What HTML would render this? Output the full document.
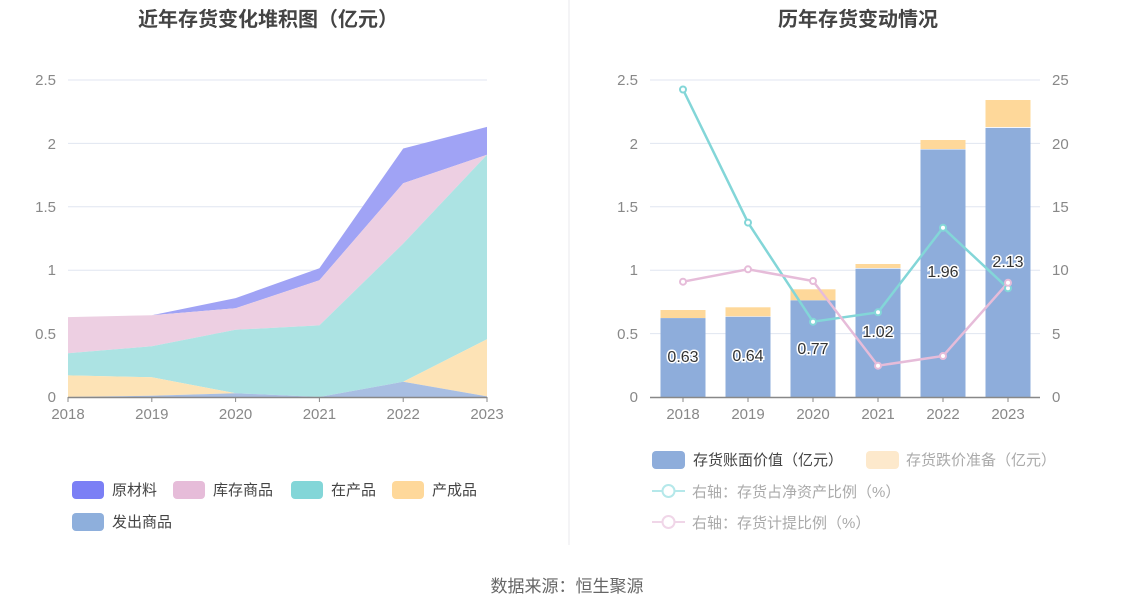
<!DOCTYPE html>
<html><head><meta charset="utf-8"><style>
body{margin:0;background:#fff;}
svg{display:block;font-family:"Liberation Sans","Noto Sans CJK SC",sans-serif;}
</style></head><body>
<svg width="1134" height="612" viewBox="0 0 1134 612">
<rect width="1134" height="612" fill="#fff"/>
<text x="268" y="26" text-anchor="middle" font-size="20" font-weight="bold" fill="#444">近年存货变化堆积图（亿元）</text>
<text x="858" y="26" text-anchor="middle" font-size="20" font-weight="bold" fill="#444">历年存货变动情况</text>
<line x1="569" y1="0" x2="569" y2="545" stroke="#e8e8ee"/>
<!-- left grid -->
<g stroke="#e0e6f1">
<line x1="68" y1="80" x2="487" y2="80"/><line x1="68" y1="143.4" x2="487" y2="143.4"/><line x1="68" y1="206.8" x2="487" y2="206.8"/><line x1="68" y1="270.2" x2="487" y2="270.2"/><line x1="68" y1="333.6" x2="487" y2="333.6"/>
</g>
<g font-size="15" fill="#888" text-anchor="end">
<text x="56" y="85">2.5</text><text x="56" y="149">2</text><text x="56" y="212">1.5</text><text x="56" y="275">1</text><text x="56" y="339">0.5</text><text x="56" y="402">0</text>
</g>
<!-- areas -->
<polygon fill="#a0a3f5" points="68,317.1 151.8,315.2 235.6,298.1 319.4,268.3 403.2,148.5 487,126.9 487,154.8 403.2,183.3 319.4,280.3 235.6,308.2 151.8,315.2 68,317.1"/>
<polygon fill="#ecceе0" points="0,0"/>
<polygon fill="#edcfe2" points="68,317.1 151.8,315.2 235.6,308.2 319.4,280.3 403.2,183.3 487,154.8 487,154.8 403.2,243.6 319.4,325.4 235.6,329.8 151.8,346.3 68,353.3"/>
<polygon fill="#ace3e3" points="68,353.3 151.8,346.3 235.6,329.8 319.4,325.4 403.2,243.6 487,154.8 487,339.3 403.2,381.8 319.4,397 235.6,393.2 151.8,377.3 68,375.4"/>
<polygon fill="#fde3b6" points="68,375.4 151.8,377.3 235.6,393.2 319.4,397 403.2,381.8 487,339.3 487,396.4 403.2,381.8 319.4,397 235.6,393.2 151.8,395.7 68,397"/>
<polygon fill="#a8bee2" points="68,397 151.8,395.7 235.6,393.2 319.4,397 403.2,381.8 487,396.4 487,397 68,397"/>
<line x1="68" y1="397.5" x2="487" y2="397.5" stroke="#888" stroke-width="1.5"/>
<g stroke="#888"><line x1="68" y1="397" x2="68" y2="402"/><line x1="151.8" y1="397" x2="151.8" y2="402"/><line x1="235.6" y1="397" x2="235.6" y2="402"/><line x1="319.4" y1="397" x2="319.4" y2="402"/><line x1="403.2" y1="397" x2="403.2" y2="402"/><line x1="487" y1="397" x2="487" y2="402"/></g>
<g font-size="15" fill="#888" text-anchor="middle">
<text x="68" y="419">2018</text><text x="151.8" y="419">2019</text><text x="235.6" y="419">2020</text><text x="319.4" y="419">2021</text><text x="403.2" y="419">2022</text><text x="487" y="419">2023</text>
</g>
<!-- left legend -->
<g font-size="15" fill="#444">
<rect x="72" y="481" width="32" height="18" rx="4" fill="#7b7ff5"/><text x="112" y="495">原材料</text>
<rect x="173" y="481" width="32" height="18" rx="4" fill="#e6bcd9"/><text x="213" y="495">库存商品</text>
<rect x="291" y="481" width="32" height="18" rx="4" fill="#83d6d8"/><text x="331" y="495">在产品</text>
<rect x="392" y="481" width="32" height="18" rx="4" fill="#fed89a"/><text x="432" y="495">产成品</text>
<rect x="72" y="513" width="32" height="18" rx="4" fill="#8eafdc"/><text x="112" y="527">发出商品</text>
</g>
<!-- right grid -->
<g stroke="#e0e6f1">
<line x1="650" y1="80" x2="1040" y2="80"/><line x1="650" y1="143.4" x2="1040" y2="143.4"/><line x1="650" y1="206.8" x2="1040" y2="206.8"/><line x1="650" y1="270.2" x2="1040" y2="270.2"/><line x1="650" y1="333.6" x2="1040" y2="333.6"/>
</g>
<g font-size="15" fill="#888" text-anchor="end">
<text x="638" y="85">2.5</text><text x="638" y="149">2</text><text x="638" y="212">1.5</text><text x="638" y="275">1</text><text x="638" y="339">0.5</text><text x="638" y="402">0</text>
</g>
<g font-size="15" fill="#888">
<text x="1052" y="85">25</text><text x="1052" y="149">20</text><text x="1052" y="212">15</text><text x="1052" y="275">10</text><text x="1052" y="339">5</text><text x="1052" y="402">0</text>
</g>
<!-- bars -->
<g fill="#fed89a">
<rect x="660.5" y="310" width="45" height="8"/><rect x="725.5" y="307.3" width="45" height="9"/><rect x="790.5" y="289.3" width="45" height="11"/><rect x="855.5" y="264" width="45" height="4"/><rect x="920.5" y="140" width="45" height="9"/><rect x="985.5" y="100" width="45" height="27"/>
</g>
<g fill="#8eaddb">
<rect x="660.5" y="318.1" width="45" height="79"/><rect x="725.5" y="316.8" width="45" height="80.2"/><rect x="790.5" y="300.4" width="45" height="96.6"/><rect x="855.5" y="268.7" width="45" height="128.3"/><rect x="920.5" y="149.5" width="45" height="247.5"/><rect x="985.5" y="127.9" width="45" height="269.1"/>
</g>
<line x1="650" y1="397.5" x2="1040" y2="397.5" stroke="#888" stroke-width="1.5"/>
<g stroke="#888"><line x1="683" y1="397" x2="683" y2="402"/><line x1="748" y1="397" x2="748" y2="402"/><line x1="813" y1="397" x2="813" y2="402"/><line x1="878" y1="397" x2="878" y2="402"/><line x1="943" y1="397" x2="943" y2="402"/><line x1="1008" y1="397" x2="1008" y2="402"/></g>
<g font-size="15" fill="#888" text-anchor="middle">
<text x="683" y="419">2018</text><text x="748" y="419">2019</text><text x="813" y="419">2020</text><text x="878" y="419">2021</text><text x="943" y="419">2022</text><text x="1008" y="419">2023</text>
</g>
<!-- lines -->
<polyline fill="none" stroke="#83d6d8" stroke-width="2.5" points="683,89.5 748,222.6 813,321.7 878,312.3 943,227.7 1008,288.3"/>
<polyline fill="none" stroke="#e6bcd9" stroke-width="2.5" points="683,281.7 748,269.3 813,281 878,365.7 943,356 1008,282.7"/>
<g fill="#fff" stroke="#83d6d8" stroke-width="2">
<circle cx="683" cy="89.5" r="3"/><circle cx="748" cy="222.6" r="3"/><circle cx="813" cy="321.7" r="3"/><circle cx="878" cy="312.3" r="3"/><circle cx="943" cy="227.7" r="3"/><circle cx="1008" cy="288.3" r="3"/>
</g>
<g fill="#fff" stroke="#e6bcd9" stroke-width="2">
<circle cx="683" cy="281.7" r="3"/><circle cx="748" cy="269.3" r="3"/><circle cx="813" cy="281" r="3"/><circle cx="878" cy="365.7" r="3"/><circle cx="943" cy="356" r="3"/><circle cx="1008" cy="282.7" r="3"/>
</g>
<g font-size="16" fill="#333" text-anchor="middle" stroke="#fff" stroke-width="3" paint-order="stroke">
<text x="683" y="362">0.63</text><text x="748" y="361">0.64</text><text x="813" y="354">0.77</text><text x="878" y="337">1.02</text><text x="943" y="277">1.96</text><text x="1008" y="267">2.13</text>
</g>
<!-- right legend -->
<g font-size="15">
<rect x="652" y="451" width="33" height="18" rx="4" fill="#8eaddb"/><text x="693" y="465" fill="#444">存货账面价值（亿元）</text>
<rect x="866" y="451" width="33" height="18" rx="4" fill="#fde9cc"/><text x="906" y="465" fill="#aaa">存货跌价准备（亿元）</text>
<line x1="652" y1="491" x2="685" y2="491" stroke="#b5e8ea" stroke-width="2"/><circle cx="668.5" cy="491" r="6" fill="#fff" stroke="#b5e8ea" stroke-width="2"/><text x="692" y="497" fill="#aaa">右轴：存货占净资产比例（%）</text>
<line x1="652" y1="522" x2="685" y2="522" stroke="#f0d6e8" stroke-width="2"/><circle cx="668.5" cy="522" r="6" fill="#fff" stroke="#f0d6e8" stroke-width="2"/><text x="692" y="528" fill="#aaa">右轴：存货计提比例（%）</text>
</g>
<text x="567" y="592" text-anchor="middle" font-size="17" fill="#666">数据来源：恒生聚源</text>
</svg>
</body></html>
